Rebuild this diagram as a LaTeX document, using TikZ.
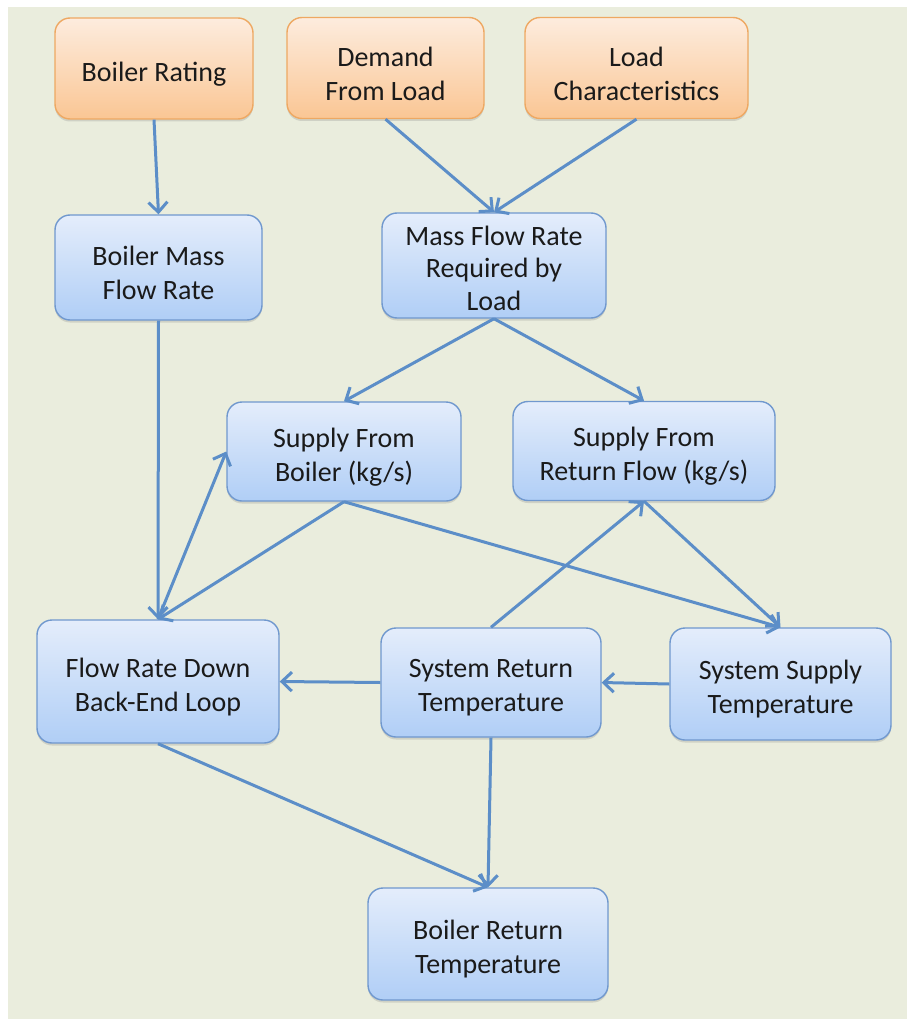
\documentclass[tikz,border=0pt]{standalone}
\usepackage{fontspec}
\setmainfont{Carlito}
\usetikzlibrary{arrows.meta,shadows}
\definecolor{pagebg}{RGB}{234,237,221}
\definecolor{inTop}{RGB}{253,236,222}
\definecolor{inBot}{RGB}{250,198,148}
\definecolor{inLine}{RGB}{238,168,98}
\definecolor{stTop}{RGB}{228,237,251}
\definecolor{stBot}{RGB}{176,206,246}
\definecolor{stLine}{RGB}{112,152,206}
\definecolor{flow}{RGB}{92,142,200}
\definecolor{ink}{RGB}{26,26,26}
\tikzset{
  basebox/.style={rounded corners=15pt, line width=1.4pt, inner sep=0pt,
    drop shadow={shadow xshift=0pt, shadow yshift=-2.5pt, opacity=0.25}},
  inputbox/.style={basebox, draw=inLine, top color=inTop, bottom color=inBot},
  statebox/.style={basebox, draw=stLine, top color=stTop, bottom color=stBot},
  boxtext/.style={text=ink, align=center, inner sep=0pt,
    font=\fontsize{28pt}{34pt}\selectfont, yshift=-5.5pt},
  link/.style={draw=flow, line width=3pt,
    -{Straight Barb[length=10pt,width=19pt,line width=3pt]}}
}
\begin{document}
\begin{tikzpicture}[x=1pt,y=-1pt]
  \useasboundingbox (0,0) rectangle (907,1019);
  \fill[white] (0,0) rectangle (907,1019);
  \fill[pagebg] (8,7) rectangle (907,1019);

  % inputs
  \node[inputbox, minimum width=198pt, minimum height=101pt] (rating) at (154,68.5) {};
  \node[inputbox, minimum width=197pt, minimum height=101pt] (demand) at (385.5,68) {};
  \node[inputbox, minimum width=223pt, minimum height=101pt] (loadch) at (636.5,68) {};

  % derived quantities
  \node[statebox, minimum width=207pt, minimum height=105pt] (bmfr) at (158.5,267.5) {};
  \node[statebox, minimum width=224pt, minimum height=105pt] (mfr) at (494,265.5) {};
  \node[statebox, minimum width=234pt, minimum height=99pt] (sfb) at (344,451.5) {};
  \node[statebox, minimum width=262pt, minimum height=99pt] (sfr) at (644,451) {};
  \node[statebox, minimum width=242pt, minimum height=123pt] (frd) at (158,681.5) {};
  \node[statebox, minimum width=220pt, minimum height=109pt] (srt) at (491,682.5) {};
  \node[statebox, minimum width=221pt, minimum height=112pt] (sst) at (780.5,684) {};
  \node[statebox, minimum width=240pt, minimum height=112pt] (brt) at (488,944) {};

  % box captions
  \node[boxtext] (rating-t) at (rating.center) {Boiler Rating};
  \node[boxtext] (demand-t) at (demand.center) {Demand\\From Load};
  \node[boxtext] (loadch-t) at (loadch.center) {Load\\Characteristics};
  \node[boxtext] (bmfr-t) at (bmfr.center) {Boiler Mass\\Flow Rate};
  \node[boxtext, font=\fontsize{28pt}{32.5pt}\selectfont, yshift=3pt] (mfr-t) at (mfr.center) {Mass Flow Rate\\Required by\\Load};
  \node[boxtext] (sfb-t) at (sfb.center) {Supply From\\Boiler (kg/s)};
  \node[boxtext] (sfr-t) at (sfr.center) {Supply From\\Return Flow (kg/s)};
  \node[boxtext] (frd-t) at (frd.center) {Flow Rate Down\\Back-End Loop};
  \node[boxtext] (srt-t) at (srt.center) {System Return\\Temperature};
  \node[boxtext] (sst-t) at (sst.center) {System Supply\\Temperature};
  \node[boxtext] (brt-t) at (brt.center) {Boiler Return\\Temperature};

  % connectors
  \draw[link] (rating.south) -- (bmfr.north);
  \draw[link] (demand.south) -- (mfr.north);
  \draw[link] (loadch.south) -- (mfr.north);
  \draw[link] (mfr.south) -- (sfb.north);
  \draw[link] (mfr.south) -- (sfr.north);
  \draw[link] (bmfr.south) -- (frd.north);
  \draw[link] (sfb.south) -- (frd.north);
  \draw[link] (frd.north) -- (sfb.west);
  \draw[link] (sfb.south) -- (sst.north);
  \draw[link] (sfr.south) -- (sst.north);
  \draw[link] (srt.north) -- (sfr.south);
  \draw[link] (sst.west) -- (srt.east);
  \draw[link] (srt.west) -- (frd.east);
  \draw[link] (frd.south) -- (brt.north);
  \draw[link] (srt.south) -- (brt.north);
\end{tikzpicture}
\end{document}
